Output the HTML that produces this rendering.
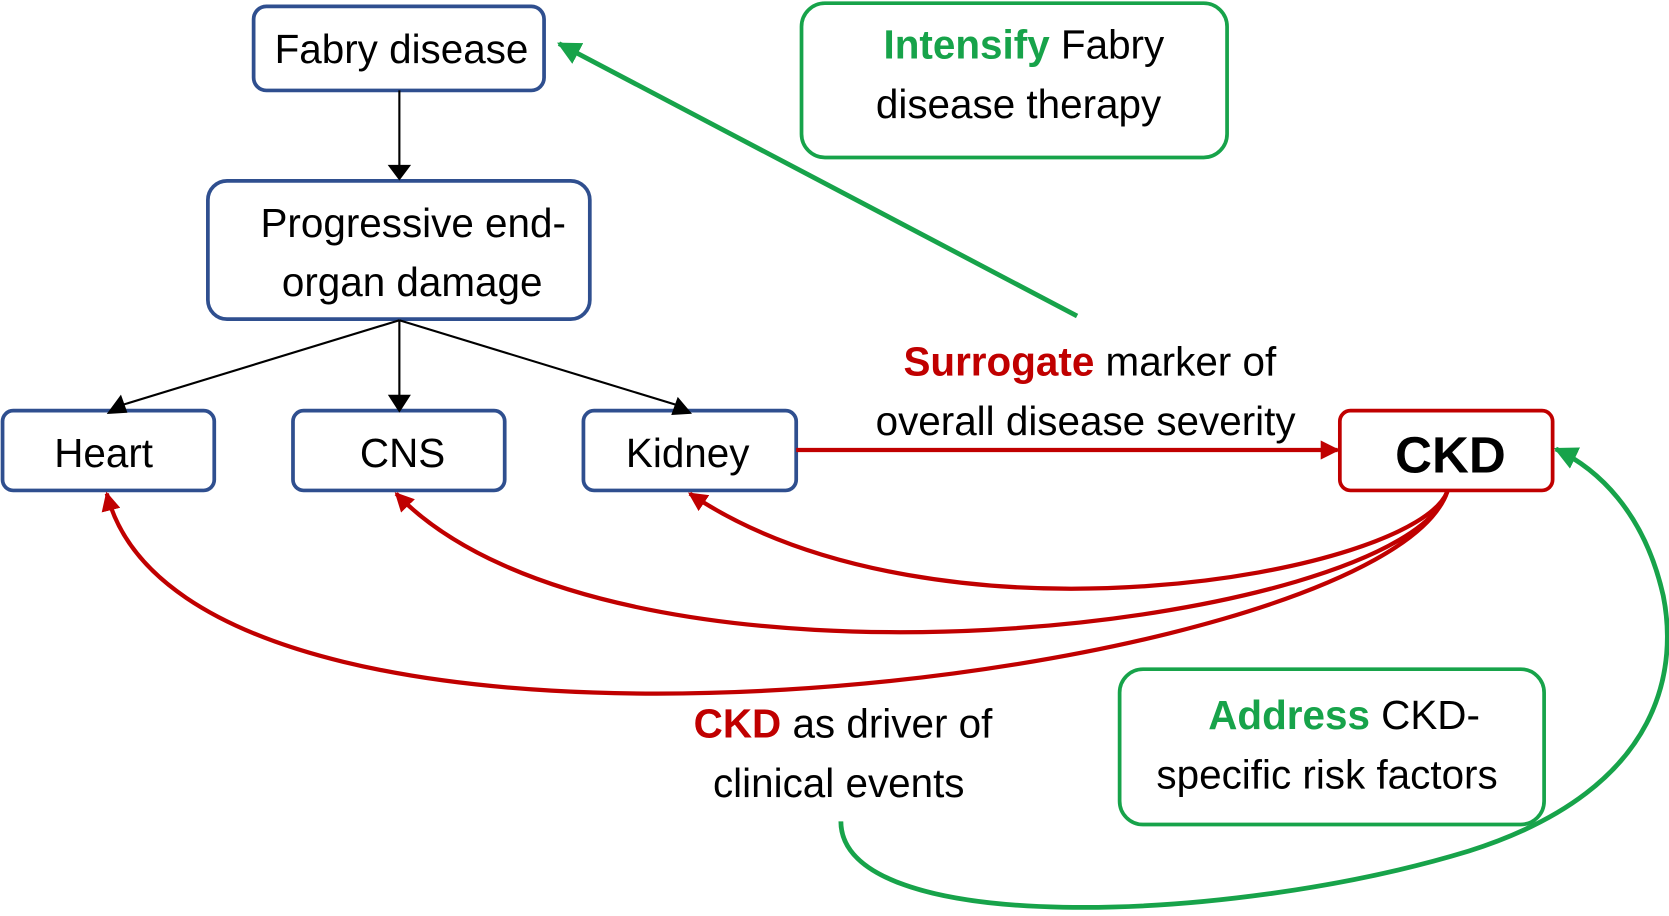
<!DOCTYPE html>
<html><head><meta charset="utf-8"><style>
html,body{margin:0;padding:0;background:#fff;}
svg{display:block;}
text{font-family:"Liberation Sans",Arial,sans-serif;}
</style></head><body>
<svg width="1669" height="916" viewBox="0 0 1568 861" xmlns="http://www.w3.org/2000/svg">
<defs>
<marker id="ar" markerWidth="18" markerHeight="18" refX="16" refY="9" orient="auto" markerUnits="userSpaceOnUse"><path d="M0,0 L18,9 L0,18 z" fill="#c00000"/></marker>
<marker id="ag" markerWidth="22" markerHeight="22" refX="20" refY="11" orient="auto" markerUnits="userSpaceOnUse"><path d="M0,0 L22,11 L0,22 z" fill="#17a34a"/></marker>
</defs>
<g fill="none" stroke-width="3.5">
<rect x="238" y="6" width="273" height="79" rx="12" stroke="#2f4f8f"/>
<rect x="195" y="170" width="359" height="130" rx="18" stroke="#2f4f8f"/>
<rect x="2" y="386" width="199" height="75" rx="10" stroke="#2f4f8f"/>
<rect x="275" y="386" width="199" height="75" rx="10" stroke="#2f4f8f"/>
<rect x="548" y="386" width="200" height="75" rx="10" stroke="#2f4f8f"/>
<rect x="1259" y="386" width="200" height="75" rx="10" stroke="#c00000"/>
<rect x="753" y="3" width="400" height="145" rx="22" stroke="#17a34a"/>
<rect x="1052" y="629" width="399" height="146" rx="22" stroke="#17a34a"/>
</g>
<g stroke="#000" stroke-width="2" fill="none">
<line x1="375" y1="85" x2="375" y2="160"/>
<path d="M375 168 l-9 -12 l18 0z" fill="#000"/>
<line x1="375" y1="301" x2="375" y2="374"/><path d="M375 386 l-9 -14 l18 0z" fill="#000"/>
<line x1="375" y1="301" x2="110" y2="382"/><path d="M102 388 l11 -15 l5 14z" fill="#000"/>
<line x1="375" y1="301" x2="640" y2="382"/><path d="M648 388 l-16 1 l5 -14z" fill="#000"/>
</g>
<g stroke="#c00000" stroke-width="4" fill="none">
<line x1="748" y1="423" x2="1257" y2="423" marker-end="url(#ar)"/>
<path d="M1360 462 C1330 540 880 620 648 464" marker-end="url(#ar)"/>
<path d="M1360 462 C1320 590 580 680 372 464" marker-end="url(#ar)"/>
<path d="M1360 462 C1300 640 180 780 100 464" marker-end="url(#ar)"/>
</g>
<g stroke="#17a34a" stroke-width="4.5" fill="none">
<line x1="1012" y1="297" x2="525" y2="41" marker-end="url(#ag)"/>
<path d="M790 772 C790 880 1150 870 1380 800 C1570 740 1575 620 1563 560 C1545 480 1500 440 1462 422" marker-end="url(#ag)"/>
</g>
<g font-size="38" fill="#000" text-anchor="middle">
<text x="377" y="59">Fabry disease</text>
<text x="388" y="223">Progressive end-</text>
<text x="387" y="278">organ damage</text>
<text x="97" y="439">Heart</text>
<text x="378" y="439">CNS</text>
<text x="646" y="439">Kidney</text>
<text x="1363" y="444" font-size="48" font-weight="bold">CKD</text>
<text x="962" y="55"><tspan fill="#17a34a" font-weight="bold">Intensify</tspan> Fabry</text>
<text x="957" y="111">disease therapy</text>
<text x="1024" y="353"><tspan fill="#c00000" font-weight="bold">Surrogate</tspan> marker of</text>
<text x="1020" y="409">overall disease severity</text>
<text x="792" y="693"><tspan fill="#c00000" font-weight="bold">CKD</tspan> as driver of</text>
<text x="788" y="749">clinical events</text>
<text x="1263" y="685"><tspan fill="#17a34a" font-weight="bold">Address</tspan> CKD-</text>
<text x="1247" y="741">specific risk factors</text>
</g>
</svg>
</body></html>
